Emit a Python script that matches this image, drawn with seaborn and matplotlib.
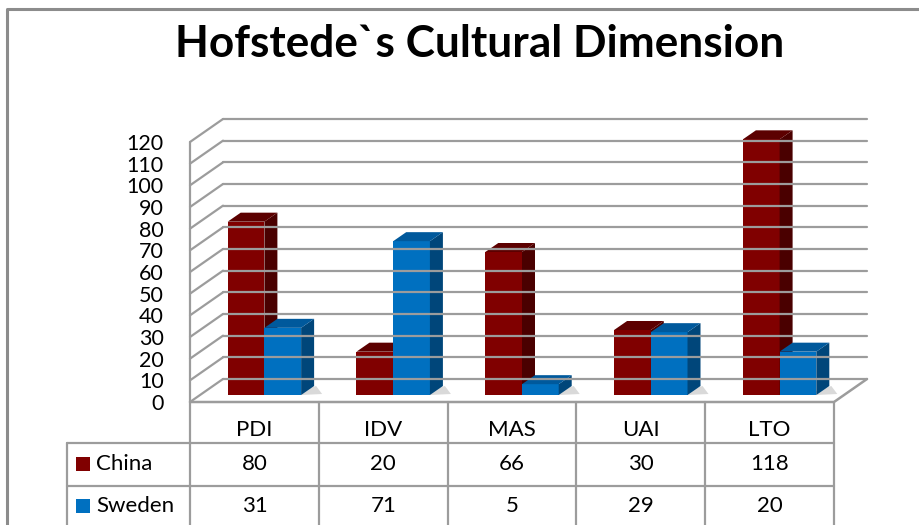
import pandas as pd
import seaborn as sns
import matplotlib.pyplot as plt
import matplotlib.transforms as mtransforms
from matplotlib.patches import Polygon, Rectangle
from matplotlib.lines import Line2D

# data
dimensions = ["PDI", "IDV", "MAS", "UAI", "LTO"]
countries = ["China", "Sweden"]
china = [80, 20, 66, 30, 118]
sweden = [31, 71, 5, 29, 20]
y_ticks = list(range(0, 121, 10))

front_colors = {"China": "#800000", "Sweden": "#0070c0"}
top_colors = {"China": "#5c0000", "Sweden": "#00599c"}
side_colors = {"China": "#4a0000", "Sweden": "#00467a"}

df = pd.DataFrame({
    "dimension": dimensions * 2,
    "country": ["China"] * len(china) + ["Sweden"] * len(sweden),
    "score": china + sweden,
})

sns.set_theme(style="white")
plt.rcParams["font.family"] = ["Lato", "DejaVu Sans"]
plt.rcParams["text.color"] = "black"

W, H = 919, 525
fig = plt.figure(figsize=(W / 100, H / 100), dpi=100)
ident = mtransforms.IdentityTransform()

GRID = "#9c9c9c"
floor_y = 402      # front edge of the floor (value 0)
left_x, right_x = 190, 834
wall_dx, wall_dy = 33, 23   # depth of the back wall
bar_dx, bar_dy = 13, 9      # depth of each bar
bar_off = (10, 7)           # bars sit a bit behind the front edge
TFS = 16                    # table font size

ax = fig.add_axes([left_x / W, (H - floor_y) / H, (right_x - left_x) / W, 260 / H])
sns.barplot(data=df, x="dimension", y="score", hue="country", order=dimensions,
            hue_order=countries, palette=front_colors, saturation=1, width=0.57,
            legend=False, ax=ax)
ax.set_xlim(-0.5, len(dimensions) - 0.5)
ax.set_ylim(0, 120)
ax.set_yticks(y_ticks)
ax.set_xticks([])
ax.set_xlabel("")
ax.set_ylabel("")
ax.tick_params(axis="y", length=0, pad=19, labelsize=15.5, labelcolor="black")
for s in ax.spines.values():
    s.set_visible(False)
ax.patch.set_alpha(0)

fig.canvas.draw()
to_disp = ax.transData.transform

# back wall + left wall gridlines
for v in y_ticks:
    fx, fy = to_disp((-0.5, v))
    rx, _ = to_disp((len(dimensions) - 0.5, v))
    fig.add_artist(Line2D([fx, fx + wall_dx], [fy, fy + wall_dy], color=GRID, lw=1.6,
                          transform=ident, zorder=1))
    fig.add_artist(Line2D([fx + wall_dx, rx + wall_dx], [fy + wall_dy, fy + wall_dy],
                          color=GRID, lw=1.6, transform=ident, zorder=1))

# left wall front edge, floor front and right edges
x0, y0 = to_disp((-0.5, 0))
x1, y1 = to_disp((len(dimensions) - 0.5, 0))
_, ytop = to_disp((-0.5, 120))
fig.add_artist(Line2D([x0, x0], [y0, ytop], color=GRID, lw=1.6, transform=ident, zorder=1))
fig.add_artist(Line2D([x0, x1, x1 + wall_dx], [y0, y1, y1 + wall_dy], color=GRID, lw=1.8,
                      transform=ident, zorder=1))

# 3D bars built from the seaborn patches
bar_tf = mtransforms.offset_copy(ax.transData, fig=fig, x=bar_off[0], y=bar_off[1], units="dots")
bars = []
for country, cont in zip(countries, ax.containers):
    for p in cont.patches:
        bars.append((p.get_x(), country, p))
bars.sort(key=lambda b: b[0])
for i, (_, country, p) in enumerate(bars):
    z = 3 + i * 0.1
    p.set_transform(bar_tf)
    p.set_clip_on(False)
    p.set_zorder(z)
    p.set_edgecolor("none")
    bb = p.get_bbox()
    (a, b), (c, d) = bar_tf.transform([(bb.x0, bb.y0), (bb.x1, bb.y1)])
    # soft shadow on the floor
    ax.add_patch(Polygon([(c, b), (c + bar_dx + 8, b + 1), (c + bar_dx + 2, b + bar_dy),
                          (c - 6, b + 2)], closed=True, facecolor="#d9d9d9", edgecolor="none",
                         transform=ident, zorder=2, clip_on=False))
    ax.add_patch(Polygon([(c, b), (c, d), (c + bar_dx, d + bar_dy), (c + bar_dx, b + bar_dy)],
                         closed=True, facecolor=side_colors[country], edgecolor="none",
                         transform=ident, zorder=z + 0.01, clip_on=False))
    ax.add_patch(Polygon([(a, d), (c, d), (c + bar_dx, d + bar_dy), (a + bar_dx, d + bar_dy)],
                         closed=True, facecolor=top_colors[country], edgecolor="none",
                         transform=ident, zorder=z + 0.02, clip_on=False))

# data table below the plot
row_lines = [443, 486]
blend = mtransforms.blended_transform_factory(ax.transData, ident)
for k in range(len(dimensions) + 1):
    xb = to_disp((k - 0.5, 0))[0]
    fig.add_artist(Line2D([xb, xb], [H - floor_y, 0], color=GRID, lw=1.6, transform=ident))
for yl in row_lines:
    fig.add_artist(Line2D([67, x1], [H - yl, H - yl], color=GRID, lw=1.6, transform=ident))
fig.add_artist(Line2D([67, 67], [H - row_lines[0], 0], color=GRID, lw=1.6, transform=ident))

for j, dim in enumerate(dimensions):
    ax.text(j, H - 430, dim, transform=blend, ha="center", va="center", fontsize=TFS,
            clip_on=False)
    ax.text(j, H - 464, str(china[j]), transform=blend, ha="center", va="center",
            fontsize=TFS, clip_on=False)
    ax.text(j, H - 506, str(sweden[j]), transform=blend, ha="center", va="center",
            fontsize=TFS, clip_on=False)

for country, yc in zip(countries, [464, 506]):
    fig.add_artist(Rectangle((76, H - yc - 7), 14, 14, facecolor=front_colors[country],
                             edgecolor="none", transform=ident))
    fig.text(96, H - yc, country, transform=ident, ha="left", va="center", fontsize=TFS)

# chart border and title
fig.add_artist(Line2D([7, 7, W], [0, H - 9, H - 9], color="#8c8c8c", lw=2.2, transform=ident))
fig.text(480, H - 44, "Hofstede`s Cultural Dimension", transform=ident, ha="center",
         va="center", fontsize=31.8, fontweight="bold")

fig.savefig("out.png", dpi=100)
